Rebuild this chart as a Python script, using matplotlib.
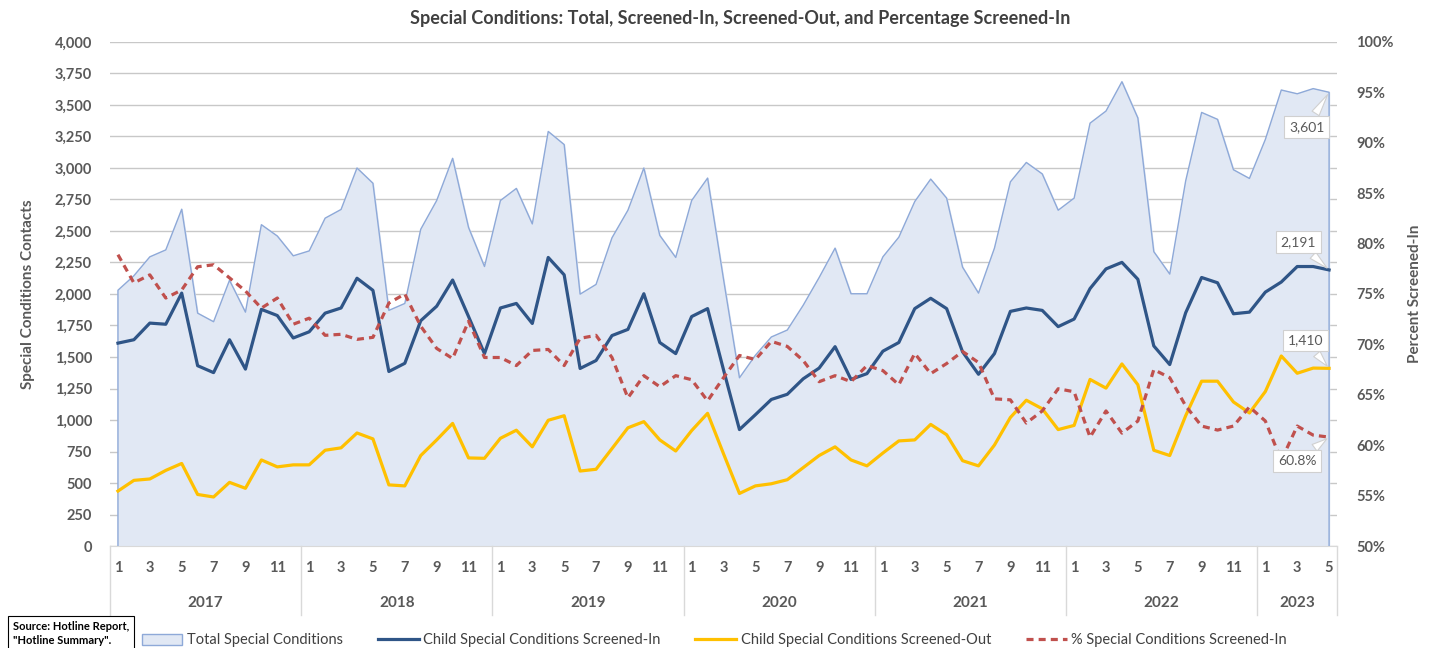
import matplotlib
matplotlib.use("Agg")
import matplotlib.pyplot as plt
from matplotlib.lines import Line2D
from matplotlib.patches import Patch
from matplotlib import ticker

plt.rcParams["font.family"] = ["Lato", "DejaVu Sans"]

# monthly data, Jan 2017 .. May 2023
years = [2017, 2018, 2019, 2020, 2021, 2022, 2023]
months_in_year = [12, 12, 12, 12, 12, 12, 5]

total = [
    2030, 2145, 2295, 2350, 2673, 1848, 1780, 2109, 1856, 2550, 2460, 2303,
    2342, 2602, 2671, 3000, 2879, 1870, 1925, 2514, 2742, 3077, 2528, 2218,
    2742, 2838, 2556, 3290, 3186, 1999, 2076, 2446, 2665, 3000, 2465, 2290,
    2742, 2920, 2117, 1335, 1514, 1659, 1714, 1911, 2131, 2364, 2002, 2002,
    2295, 2451, 2734, 2912, 2761, 2213, 2007, 2364, 2890, 3044, 2953, 2665,
    2761, 3356, 3452, 3685, 3397, 2336, 2158, 2898, 3441, 3386, 2986, 2917,
    3227, 3619, 3589, 3630, 3601,
]
screened_in = [
    1610, 1637, 1769, 1760, 2007, 1431, 1376, 1637, 1404, 1878, 1829, 1651,
    1700, 1848, 1889, 2125, 2029, 1385, 1450, 1788, 1903, 2111, 1821, 1527,
    1889, 1925, 1766, 2290, 2152, 1409, 1472, 1670, 1719, 2002, 1615, 1527,
    1821, 1884, 1398, 924, 1042, 1163, 1204, 1327, 1412, 1582, 1322, 1368,
    1546, 1615, 1884, 1966, 1884, 1541, 1363, 1527, 1862, 1889, 1870, 1741,
    1801, 2043, 2199, 2251, 2117, 1588, 1440, 1851, 2131, 2089, 1843, 1856,
    2015, 2095, 2218, 2218, 2191,
]
screened_out = [
    436, 521, 532, 600, 655, 409, 389, 505, 458, 683, 628, 644,
    644, 760, 779, 897, 850, 485, 477, 718, 842, 973, 699, 696,
    855, 919, 787, 998, 1034, 595, 609, 773, 938, 987, 842, 754,
    916, 1053, 732, 417, 477, 494, 526, 622, 718, 787, 683, 636,
    738, 834, 842, 965, 883, 677, 636, 801, 1020, 1157, 1089, 924,
    957, 1322, 1253, 1445, 1280, 760, 718, 1034, 1308, 1308, 1143, 1056,
    1226, 1508, 1371, 1412, 1410,
]
pct_in = [
    78.9, 76.1, 76.9, 74.6, 75.4, 77.7, 77.9, 76.6, 75.3, 73.6, 74.6, 72.0,
    72.6, 70.9, 71.0, 70.5, 70.7, 74.1, 75.0, 71.8, 69.6, 68.6, 72.3, 68.7,
    68.7, 67.9, 69.4, 69.5, 67.9, 70.6, 70.9, 68.7, 64.7, 66.9, 65.8, 66.9,
    66.5, 64.4, 66.7, 68.9, 68.5, 70.3, 69.8, 68.4, 66.3, 66.9, 66.3, 67.9,
    67.4, 66.0, 69.1, 67.1, 68.1, 69.3, 68.2, 64.6, 64.5, 62.2, 63.4, 65.6,
    65.3, 60.8, 63.4, 61.2, 62.4, 67.5, 66.7, 63.9, 61.9, 61.5, 61.9, 63.8,
    62.4, 58.5, 61.9, 61.0, 60.8,
]

month_num = [m for n in months_in_year for m in range(1, n + 1)]
x = list(range(len(total)))

GRAY = "#595959"
c_fill = "#E1E8F4"
c_edge = "#8EA9D8"
c_in = "#2F5587"
c_out = "#FFC000"
c_pct = "#C0504D"

fig = plt.figure(figsize=(14.34, 6.48), dpi=100)
ax = fig.add_axes([0.0767, 0.1574, 0.8557, 0.7778])
ax2 = ax.twinx()

ax.fill_between(x, total, 0, color=c_fill, zorder=2)
ax.plot([x[0]] + x + [x[-1]], [0] + total + [0], color=c_edge, lw=1.0, zorder=3)
ax.plot(x, screened_in, color=c_in, lw=2.3, zorder=4)
ax.plot(x, screened_out, color=c_out, lw=2.3, zorder=4)
ax2.plot(x, pct_in, color=c_pct, lw=2.3, ls=(0, (2.2, 1.6)), zorder=5)

ax.set_xlim(-0.5, len(x) - 0.5)
ax.set_ylim(0, 4000)
ax.yaxis.set_major_locator(ticker.MultipleLocator(250))
ax.yaxis.set_major_formatter(ticker.StrMethodFormatter("{x:,.0f}"))
ax2.set_ylim(50, 100)
ax2.yaxis.set_major_locator(ticker.MultipleLocator(5))
ax2.yaxis.set_major_formatter(ticker.FuncFormatter(lambda v, p: f"{v:.0f}%"))

ax.grid(axis="y", color="#C8C8C8", lw=1.0, zorder=1)
ax.set_axisbelow(True)
for a in (ax, ax2):
    for s in a.spines.values():
        s.set_visible(False)
ax.spines["bottom"].set_visible(True)
ax.spines["bottom"].set_color("#D9D9D9")

odd = [i for i in x if month_num[i] % 2 == 1]
ax.set_xticks(odd)
ax.set_xticklabels([str(month_num[i]) for i in odd])
ax.tick_params(axis="x", length=0, pad=11, labelsize=10.5, labelcolor=GRAY)
ax.tick_params(axis="y", length=0, pad=13, labelsize=10.5, labelcolor=GRAY)
ax2.tick_params(axis="y", length=0, pad=14, labelsize=10.5, labelcolor=GRAY)
for lab in ax.get_xticklabels() + ax.get_yticklabels() + ax2.get_yticklabels():
    lab.set_fontweight("bold")

# year groups under the month labels
trans = ax.get_xaxis_transform()
start = 0
bounds = [-0.5]
for yr, n in zip(years, months_in_year):
    ax.text(start + (n - 1) / 2, -0.113, str(yr), transform=trans, ha="center",
            va="center", fontsize=11, fontweight="bold", color=GRAY)
    start += n
    bounds.append(start - 0.5)
for b in bounds:
    ax.plot([b, b], [0, -0.137], transform=trans, color="#D9D9D9", lw=1,
            clip_on=False)

ax.set_ylabel("Special Conditions Contacts", fontsize=11, fontweight="bold",
              color=GRAY, labelpad=14)
ax2.set_ylabel("Percent Screened-In", fontsize=11, fontweight="bold",
               color=GRAY, labelpad=10)
fig.text(0.516, 0.972, "Special Conditions: Total, Screened-In, Screened-Out, and Percentage Screened-In",
         ha="center", va="center", fontsize=13, fontweight="bold", color="#404040")

# callouts on the last month
box = dict(boxstyle="square,pad=0.35", fc="white", ec="#D0D0D0", lw=0.8)
arw = dict(arrowstyle="wedge,tail_width=0.6,shrink_factor=0.5", fc="white",
           ec="#D0D0D0", lw=0.8)
last = x[-1]
ax.annotate(f"{total[-1]:,}", (last, total[-1]), xytext=(-16, -25),
            textcoords="offset points", ha="center", va="center", fontsize=10,
            color=GRAY, bbox=box, arrowprops=arw, zorder=6)
ax.annotate(f"{screened_in[-1]:,}", (last, screened_in[-1]), xytext=(-22, 20),
            textcoords="offset points", ha="center", va="center", fontsize=10,
            color=GRAY, bbox=box, arrowprops=arw, zorder=6)
ax.annotate(f"{screened_out[-1]:,}", (last, screened_out[-1]), xytext=(-17, 20),
            textcoords="offset points", ha="center", va="center", fontsize=10,
            color=GRAY, bbox=box, arrowprops=arw, zorder=6)
ax2.annotate(f"{pct_in[-1]:.1f}%", (last, pct_in[-1]), xytext=(-23, -17),
             textcoords="offset points", ha="center", va="center", fontsize=10,
             color=GRAY, bbox=box, arrowprops=arw, zorder=6)

handles = [
    Patch(fc=c_fill, ec=c_edge, lw=1, label="Total Special Conditions"),
    Line2D([], [], color=c_in, lw=2.3, label="Child Special Conditions Screened-In"),
    Line2D([], [], color=c_out, lw=2.3, label="Child Special Conditions Screened-Out"),
    Line2D([], [], color=c_pct, lw=2.3, ls=(0, (2.2, 1.6)),
           label="% Special Conditions Screened-In"),
]
fig.legend(handles=handles, loc="center", bbox_to_anchor=(0.498, 0.012), ncol=4,
           frameon=False, fontsize=10.5, handlelength=2.8, handleheight=0.8,
           columnspacing=2.4, handletextpad=0.3, labelcolor="#404040")

fig.text(0.009, 0.022, "Source: Hotline Report,\n\"Hotline Summary\".",
         ha="left", va="center", fontsize=8, fontweight="bold", color="black",
         linespacing=1.35,
         bbox=dict(boxstyle="square,pad=0.45", fc="white", ec="black", lw=0.8))

fig.savefig("out.png", dpi=100)
